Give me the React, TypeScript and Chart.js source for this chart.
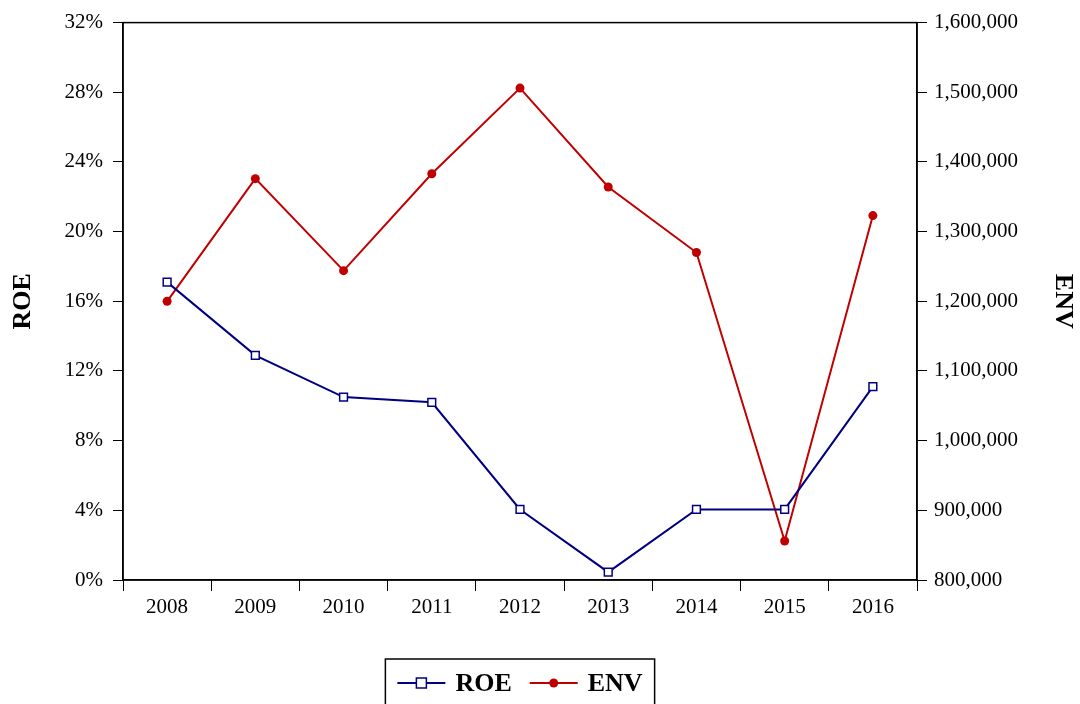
import React, { useEffect, useRef } from 'react';
import { Chart, registerables } from 'chart.js';

Chart.register(...registerables);

const years = ['2008', '2009', '2010', '2011', '2012', '2013', '2014', '2015', '2016'];
const roeValues = [17.1, 12.9, 10.5, 10.2, 4.05, 0.45, 4.05, 4.05, 11.1];
const envValues = [1200000, 1376000, 1244000, 1383000, 1506000, 1364000, 1270000, 856000, 1323000];
const roeRange = { min: 0, max: 32, step: 4 };
const envRange = { min: 800000, max: 1600000, step: 100000 };

const FONT = "'Liberation Serif', 'Times New Roman', serif";
const ROE_COLOR = '#000080';
const ENV_COLOR = '#C00000';

const framePlugin = {
  id: 'frame',
  beforeDatasetsDraw(chart: any) {
    const { ctx, chartArea } = chart;
    ctx.save();
    ctx.strokeStyle = '#000';
    ctx.lineWidth = 1.5;
    ctx.strokeRect(chartArea.left, chartArea.top, chartArea.right - chartArea.left, chartArea.bottom - chartArea.top);
    ctx.restore();
  },
};

const boxLegendPlugin = {
  id: 'boxLegend',
  afterDraw(chart: any) {
    const { ctx, chartArea } = chart;
    const cx = (chartArea.left + chartArea.right) / 2;
    const cy = 683;
    ctx.save();
    ctx.font = `bold 26px ${FONT}`;
    const lineLen = 48;
    const gapText = 10;
    const gapItem = 18;
    const pad = 12;
    const items = chart.data.datasets.map((ds: any) => ({
      ds,
      w: lineLen + gapText + ctx.measureText(ds.label).width,
    }));
    const total = items.reduce((s: number, it: any) => s + it.w, 0) + gapItem * (items.length - 1) + pad * 2;
    const left = cx - total / 2;
    ctx.strokeStyle = '#000';
    ctx.lineWidth = 1.5;
    ctx.strokeRect(left, cy - 24, total, 60);
    let x = left + pad;
    items.forEach((it: any) => {
      const ds = it.ds;
      ctx.strokeStyle = ds.borderColor;
      ctx.lineWidth = 2;
      ctx.beginPath();
      ctx.moveTo(x, cy);
      ctx.lineTo(x + lineLen, cy);
      ctx.stroke();
      const mx = x + lineLen / 2;
      if (ds.pointStyle === 'rect') {
        ctx.fillStyle = '#fff';
        ctx.fillRect(mx - 5, cy - 5, 10, 10);
        ctx.lineWidth = 1.5;
        ctx.strokeRect(mx - 5, cy - 5, 10, 10);
      } else {
        ctx.fillStyle = ds.pointBackgroundColor;
        ctx.beginPath();
        ctx.arc(mx, cy, 4.5, 0, Math.PI * 2);
        ctx.fill();
      }
      ctx.fillStyle = '#000';
      ctx.textAlign = 'left';
      ctx.textBaseline = 'middle';
      ctx.fillText(ds.label, x + lineLen + gapText, cy + 1);
      x += it.w + gapItem;
    });
    ctx.restore();
  },
};

export default function App() {
  const ref = useRef<HTMLCanvasElement | null>(null);
  useEffect(() => {
    if (!ref.current) return;
    const chart = new Chart(ref.current, {
      type: 'line',
      data: {
        labels: years,
        datasets: [
          {
            label: 'ROE',
            data: roeValues,
            yAxisID: 'yRoe',
            borderColor: ROE_COLOR,
            borderWidth: 2,
            pointStyle: 'rect',
            pointRadius: 5.5,
            pointBorderWidth: 1.5,
            pointBackgroundColor: '#fff',
            pointBorderColor: ROE_COLOR,
            tension: 0,
          },
          {
            label: 'ENV',
            data: envValues,
            yAxisID: 'yEnv',
            borderColor: ENV_COLOR,
            borderWidth: 2,
            pointStyle: 'circle',
            pointRadius: 4.5,
            pointBorderWidth: 0,
            pointBackgroundColor: ENV_COLOR,
            pointBorderColor: ENV_COLOR,
            tension: 0,
          },
        ],
      },
      options: {
        responsive: false,
        animation: false,
        layout: { padding: { top: 20, bottom: 74, left: 0, right: 0 } },
        plugins: {
          legend: { display: false },
          tooltip: { enabled: false },
        },
        scales: {
          x: {
            type: 'category',
            offset: true,
            afterFit: (s: any) => { s.height = 50; },
            grid: { display: true, drawOnChartArea: false, drawTicks: true, tickLength: 11, color: '#000', offset: true },
            border: { display: true, color: '#000', width: 1.5 },
            ticks: { color: '#000', font: { family: FONT, size: 21 }, padding: 4, maxRotation: 0 },
          },
          yRoe: {
            type: 'linear',
            position: 'left',
            min: roeRange.min,
            max: roeRange.max,
            afterFit: (s: any) => { s.width = 123; },
            grid: { display: true, drawOnChartArea: false, drawTicks: true, tickLength: 10, color: '#000' },
            border: { display: true, color: '#000', width: 1.5 },
            ticks: {
              stepSize: roeRange.step,
              color: '#000',
              font: { family: FONT, size: 21 },
              padding: 10,
              callback: (v: any) => `${v}%`,
            },
            title: {
              display: true,
              text: 'ROE',
              color: '#000',
              font: { family: FONT, size: 26, weight: 'bold' },
              padding: { top: 8, bottom: 0 },
            },
          },
          yEnv: {
            type: 'linear',
            position: 'right',
            min: envRange.min,
            max: envRange.max,
            afterFit: (s: any) => { s.width = 163; },
            grid: { display: true, drawOnChartArea: false, drawTicks: true, tickLength: 10, color: '#000' },
            border: { display: true, color: '#000', width: 1.5 },
            ticks: {
              stepSize: envRange.step,
              color: '#000',
              font: { family: FONT, size: 21 },
              padding: 7,
              callback: (v: any) => Number(v).toLocaleString('en-US'),
            },
            title: {
              display: true,
              text: 'ENV',
              color: '#000',
              font: { family: FONT, size: 26, weight: 'bold' },
              padding: { top: 2, bottom: 0 },
            },
          },
        },
      },
      plugins: [framePlugin, boxLegendPlugin],
    } as any);
    return () => chart.destroy();
  }, []);
  return (
    <div style={{ position: 'absolute', left: 0, top: 0, width: 1080, height: 704, background: '#fff' }}>
      <canvas ref={ref} width={1080} height={704} style={{ display: 'block' }} />
    </div>
  );
}
